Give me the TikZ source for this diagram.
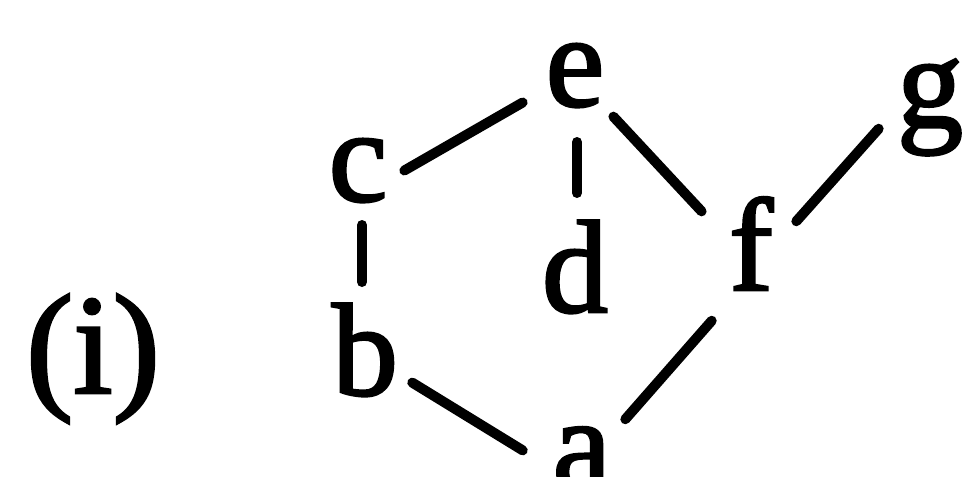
\documentclass[tikz,border=0pt]{standalone}
\usepackage{fontspec}
\setmainfont[FakeBold=2]{Liberation Serif}
\begin{document}
\begin{tikzpicture}[x=1pt,y=-1pt,
  lbl/.style={anchor=base,inner sep=0pt,font=\fontsize{132}{132}\selectfont},
  edge/.style={line width=10pt,line cap=round,shorten <=5pt,shorten >=5pt}]
\useasboundingbox (0,0) rectangle (968,476);
\node[anchor=base,inner sep=0pt,font=\fontsize{142}{142}\selectfont] (lab) at (93,393) {(i)};
\node[lbl] (e) at (575,106) {e};
\node[lbl] (c) at (358,201) {c};
\node[lbl] (g) at (930,127) {g};
\node[lbl] (f) at (751,290) {f};
\node[lbl] (d) at (575,312) {d};
\node[lbl] (b) at (365,395) {b};
\node[lbl] (a) at (582,489) {a};
\draw[edge] ([shift={(42,-28)}]c.base) -- ([shift={(-48,-6)}]e.base);
\draw[edge] ([shift={(2,31)}]e.base) -- ([shift={(2,-114)}]d.base);
\draw[edge] ([shift={(35,7)}]e.base) -- ([shift={(-46,-75)}]f.base);
\draw[edge] ([shift={(42,-65)}]f.base) -- ([shift={(-48,-2)}]g.base);
\draw[edge] ([shift={(4,19)}]c.base) -- ([shift={(-3,-108)}]b.base);
\draw[edge] ([shift={(43,-15)}]b.base) -- ([shift={(-55,-36)}]a.base);
\draw[edge] ([shift={(40,-66)}]a.base) -- ([shift={(-36,27)}]f.base);
\end{tikzpicture}
\end{document}
